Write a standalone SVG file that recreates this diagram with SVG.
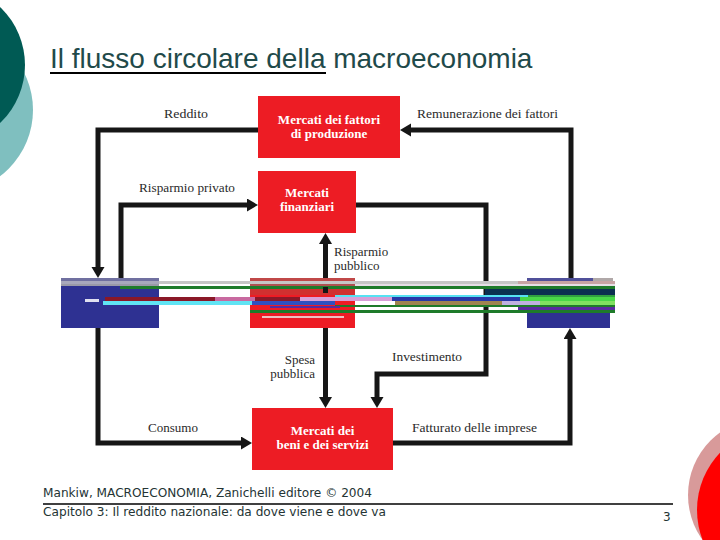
<svg xmlns="http://www.w3.org/2000/svg" width="720" height="540" viewBox="0 0 720 540">
<defs>
<marker id="arr" markerUnits="userSpaceOnUse" markerWidth="12" markerHeight="14" refX="0" refY="6.5" orient="auto">
<path d="M0,0 L11,6.5 L0,13 z" fill="#161616"/>
</marker>
<style>
.title{font-family:"Liberation Sans",Arial,sans-serif;font-size:28px;fill:#1f4a4a}
.foot{font-family:"DejaVu Sans","Liberation Sans",sans-serif;font-size:12px;fill:#243434}
.lbl{font-family:"Liberation Serif","Times New Roman",serif;font-size:13px;fill:#2a2a2a}
.box{font-family:"Liberation Serif","Times New Roman",serif;font-size:13px;font-weight:bold;fill:#ffffff;text-anchor:middle}
.red{fill:#ed1c24}
.blue{fill:#2e3192}
.conn{fill:none;stroke:#161616;stroke-width:5;stroke-linejoin:miter;marker-end:url(#arr)}
</style>
</defs>
<rect width="720" height="540" fill="#ffffff"/>
<!-- decoration -->
<g id="decor">
<circle cx="-50" cy="110" r="83" fill="#7fbfbf"/>
<circle cx="-55" cy="65" r="80" fill="#005a54"/>
<circle cx="765" cy="495" r="77" fill="#d89a9a"/>
<circle cx="780" cy="510" r="83" fill="#ff0000"/>
</g>
<g id="title">
<text class="title" x="50" y="68">Il flusso circolare della macroeconomia</text>
<line x1="50" y1="73" x2="326" y2="73" stroke="#000" stroke-width="2"/>
</g>
<!-- connectors -->
<g id="connectors">
<path class="conn" d="M258,130 H98 V267"/>
<path class="conn" d="M571,278 V130 H411"/>
<path class="conn" d="M121,278 V205 H247"/>
<path class="conn" d="M356,205 H486 V374 H377 V397"/>
<path class="conn" d="M325.5,278 V244"/>
<path class="conn" d="M325.5,328 V397"/>
<path class="conn" d="M98,328 V443 H241"/>
<path class="conn" d="M393,443 H570 V339"/>
<text class="lbl" x="164" y="118" textLength="44" lengthAdjust="spacingAndGlyphs">Reddito</text>
<text class="lbl" x="417" y="118" textLength="141" lengthAdjust="spacingAndGlyphs">Remunerazione dei fattori</text>
<text class="lbl" x="139" y="192" textLength="96" lengthAdjust="spacingAndGlyphs">Risparmio privato</text>
<text class="lbl" x="334" y="256">Risparmio</text>
<text class="lbl" x="334" y="270">pubblico</text>
<text class="lbl" x="315" y="364" text-anchor="end">Spesa</text>
<text class="lbl" x="315" y="378" text-anchor="end">pubblica</text>
<text class="lbl" x="392" y="361" textLength="70" lengthAdjust="spacingAndGlyphs">Investimento</text>
<text class="lbl" x="148" y="432" textLength="50" lengthAdjust="spacingAndGlyphs">Consumo</text>
<text class="lbl" x="412" y="432" textLength="125" lengthAdjust="spacingAndGlyphs">Fatturato delle imprese</text>
</g>
<!-- nodes -->
<g id="fattori">
<rect class="red" x="258" y="96" width="142" height="62"/>
<text class="box" x="329" y="124">Mercati dei fattori</text>
<text class="box" x="329" y="138">di produzione</text>
</g>
<g id="finanziari">
<rect class="red" x="258" y="171" width="98" height="62"/>
<text class="box" x="307" y="197">Mercati</text>
<text class="box" x="307" y="211">finanziari</text>
</g>
<g id="beni">
<rect class="red" x="252" y="408" width="141" height="62"/>
<text class="box" x="322.5" y="435">Mercati dei</text>
<text class="box" x="322.5" y="449">beni e dei servizi</text>
</g>
<g id="famiglie">
<rect class="blue" x="61" y="278" width="98" height="50"/>
</g>
<g id="stato">
<rect class="red" x="250" y="278" width="105" height="50"/>
</g>
<g id="imprese">
<rect class="blue" x="527" y="278" width="83" height="50"/>
</g>
<!-- corrupted band over the middle row -->
<g id="glitch">
<rect x="61" y="278" width="98" height="3" fill="#7070a0"/>
<rect x="250" y="278" width="105" height="3" fill="#c04848"/>
<rect x="527" y="278" width="66" height="3" fill="#50509a"/>
<rect x="593" y="278" width="20" height="3" fill="#b0a8a8"/>
<rect x="61" y="281" width="98" height="3" fill="#a8a8bc"/>
<rect x="159" y="281" width="456" height="3" fill="#c6c6c6"/>
<rect x="518" y="281" width="97" height="3" fill="#c8a4a4"/>
<rect x="61" y="284" width="98" height="2" fill="#9a9aa8"/>
<rect x="250" y="284" width="105" height="2" fill="#b05050"/>
<rect x="355" y="284" width="260" height="2" fill="#e6dee6"/>
<rect x="120" y="286" width="495" height="3" fill="#1e7b2a"/>
<rect x="250" y="289" width="105" height="6" fill="#d03030"/>
<rect x="485" y="289" width="130" height="6" fill="#0b3050"/>
<rect x="323" y="287" width="5" height="6" fill="#161616"/>
<rect x="335" y="295" width="193" height="2" fill="#56e2f2"/>
<rect x="528" y="295" width="87" height="2" fill="#30a040"/>
<rect x="105" y="297" width="110" height="4" fill="#8a1828"/>
<rect x="215" y="297" width="40" height="4" fill="#c86aa0"/>
<rect x="255" y="297" width="45" height="4" fill="#8a1828"/>
<rect x="300" y="297" width="92" height="4" fill="#d8a0d8"/>
<rect x="392" y="297" width="128" height="4" fill="#2838a8"/>
<rect x="520" y="297" width="95" height="4" fill="#48d848"/>
<rect x="85" y="299" width="14" height="3" fill="#e0e0f0"/>
<rect x="103" y="301" width="149" height="4" fill="#60e4f4"/>
<rect x="252" y="301" width="83" height="4" fill="#3050c0"/>
<rect x="395" y="301" width="107" height="4" fill="#a08450"/>
<rect x="502" y="301" width="38" height="4" fill="#c0b0e0"/>
<rect x="540" y="301" width="75" height="4" fill="#80e060"/>
<rect x="335" y="305" width="280" height="2" fill="#1e7b2a"/>
<rect x="270" y="306" width="70" height="2" fill="#5a2aa0"/>
<rect x="518" y="307" width="97" height="3" fill="#5a2aa0"/>
<rect x="250" y="310" width="365" height="3" fill="#1e7b2a"/>
<rect x="262" y="316" width="82" height="2" fill="#f0c0c0"/>
</g>
<!-- footer -->
<g id="footer">
<text class="foot" x="43" y="497" textLength="329" lengthAdjust="spacingAndGlyphs">Mankiw, MACROECONOMIA, Zanichelli editore © 2004</text>
<line x1="43" y1="504" x2="673" y2="504" stroke="#000" stroke-width="1.5"/>
<text class="foot" x="43" y="516" textLength="343" lengthAdjust="spacingAndGlyphs">Capitolo 3: Il reddito nazionale: da dove viene e dove va</text>
<text class="foot" x="663" y="521">3</text>
</g>
</svg>
